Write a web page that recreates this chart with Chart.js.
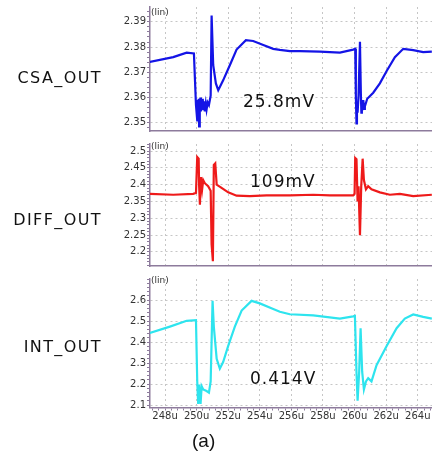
<!DOCTYPE html>
<html>
<head>
<meta charset="utf-8">
<script src="https://cdn.jsdelivr.net/npm/chart.js@4.4.1/dist/chart.umd.min.js"></script>
<style>
  html, body { margin: 0; padding: 0; background: #fff; }
  #wrap { position: relative; width: 432px; height: 451px; overflow: hidden; font-family: "DejaVu Sans", sans-serif; color: #111; }
  #wrap canvas { position: absolute; left: 0; }
  .sig { position: absolute; right: 330px; font-size: 16px; letter-spacing: 1.4px; line-height: 1; transform: translateY(-50%); white-space: nowrap; }
  .amp { position: absolute; font-size: 17px; letter-spacing: 1px; line-height: 1; transform: translateY(-50%); white-space: nowrap; }
  .lin { position: absolute; left: 151px; font-size: 9px; color: #333; line-height: 1; transform: translateY(-50%); }
  .cap { position: absolute; left: 192px; top: 440px; font-family: "Liberation Sans", sans-serif; font-size: 19px; line-height: 1; transform: translateY(-50%); }
</style>
</head>
<body>
<div id="wrap">
  <canvas id="csa" width="432" height="138" style="top:0px"></canvas>
  <canvas id="diff" width="432" height="136" style="top:137px"></canvas>
  <canvas id="int" width="432" height="179" style="top:272px"></canvas>

  <div class="sig" style="top:78px">CSA_OUT</div>
  <div class="sig" style="top:220px">DIFF_OUT</div>
  <div class="sig" style="top:347px">INT_OUT</div>

  <div class="amp" style="left:243px; top:101px">25.8mV</div>
  <div class="amp" style="left:250px; top:181px">109mV</div>
  <div class="amp" style="left:250px; top:378px">0.414V</div>

  <div class="lin" style="top:12px">(lin)</div>
  <div class="lin" style="top:146px">(lin)</div>
  <div class="lin" style="top:280px">(lin)</div>

  <div class="cap">(a)</div>
</div>
<script>
// time axis, microseconds
const TIME_MIN = 247.05;
const TIME_MAX = 264.9;
const TIME_TICKS = [248, 250, 252, 254, 256, 258, 260, 262, 264];

// CSA_OUT (V)
const CSA_T = [247.04, 248.52, 249.37, 249.83, 249.96, 250.04, 250.08, 250.10, 250.13, 250.16, 250.19, 250.21, 250.24, 250.27, 250.31, 250.35,
  250.39, 250.42, 250.47, 250.52, 250.58, 250.63, 250.70, 250.78, 250.89, 250.95,
  251.05, 251.22, 251.37, 251.68, 252.11, 252.53, 253.12, 253.58, 254.22, 254.85, 255.27, 255.90, 256.54, 257.80, 259.07, 259.91, 260.04,
  260.08, 260.12, 260.15, 260.19, 260.25, 260.34, 260.40, 260.43, 260.46, 260.50, 260.55, 260.60, 260.65, 260.80, 261.18, 261.60, 262.03,
  262.55, 263.08, 263.71, 264.34, 264.89];
const CSA_V = [2.3741, 2.3760, 2.3778, 2.3775, 2.3570, 2.3509, 2.3590, 2.3540, 2.3595, 2.3485, 2.3585, 2.3560, 2.3600, 2.3545, 2.3590, 2.3560,
  2.3595, 2.3550, 2.3585, 2.3545, 2.3575, 2.3552, 2.3580, 2.3570, 2.3607, 2.3925,
  2.3729, 2.3656, 2.3629, 2.3668, 2.3729, 2.3790, 2.3827, 2.3824, 2.3808, 2.3793, 2.3789, 2.3784, 2.3784, 2.3782, 2.3778, 2.3790, 2.3793,
  2.3607, 2.3497, 2.3580, 2.3540, 2.3607, 2.3821, 2.3607, 2.3540, 2.3580, 2.3550, 2.3590, 2.3555, 2.3565, 2.3595, 2.3619, 2.3656, 2.3705,
  2.3760, 2.3793, 2.3788, 2.3780, 2.3782];
const CSA_TICKS = [2.35, 2.36, 2.37, 2.38, 2.39];

// DIFF_OUT (V)
const DIFF_T = [247.04, 248.52, 249.78, 249.96, 250.04, 250.13, 250.16, 250.21, 250.27, 250.35, 250.42, 250.52, 250.73, 250.89, 250.95, 251.03,
  251.09, 251.18, 251.27, 251.58, 252.00, 252.53, 253.37, 254.43, 255.27, 255.90, 257.38, 258.44, 259.91, 260.00, 260.04, 260.12, 260.19,
  260.25, 260.34, 260.42, 260.51, 260.59, 260.72, 260.86, 261.07, 261.60, 262.23, 262.87, 263.71, 264.89];
const DIFF_V = [2.3727, 2.3700, 2.3727, 2.3754, 2.4820, 2.4773, 2.3954, 2.3407, 2.4227, 2.3863, 2.4136, 2.4044, 2.3954, 2.3817, 2.2224, 2.1722,
  2.4590, 2.4636, 2.4000, 2.3907, 2.3770, 2.3672, 2.3660, 2.3681, 2.3680, 2.3681, 2.3700, 2.3680, 2.3680, 2.3727, 2.4790, 2.4754, 2.3500,
  2.3954, 2.2497, 2.3954, 2.4773, 2.4136, 2.3863, 2.3954, 2.3863, 2.3770, 2.3700, 2.3727, 2.3660, 2.3700];
const DIFF_TICKS = [2.2, 2.25, 2.3, 2.35, 2.4, 2.45, 2.5];

// INT_OUT (V)
const INT_T = [247.04, 248.31, 249.37, 249.96, 250.04, 250.10, 250.16, 250.25, 250.32, 250.42, 250.63, 250.78, 250.89, 251.01, 251.09, 251.27,
  251.47, 251.68, 252.00, 252.42, 252.85, 253.48, 254.00, 254.85, 255.27, 255.90, 257.38, 259.07, 259.91, 260.02, 260.12, 260.19, 260.29,
  260.38, 260.48, 260.59, 260.72, 260.86, 261.07, 261.39, 262.03, 262.66, 263.18, 263.71, 264.34, 264.89];
const INT_V = [2.4433, 2.4742, 2.5018, 2.5046, 2.2129, 2.1055, 2.1977, 2.1055, 2.1900, 2.1747, 2.1668, 2.1590, 2.2129, 2.5968, 2.4742, 2.3203,
  2.2742, 2.3050, 2.3820, 2.4742, 2.5507, 2.5968, 2.5848, 2.5585, 2.5450, 2.5330, 2.5277, 2.5124, 2.5230, 2.5250, 2.2590, 2.1207, 2.2590,
  2.4664, 2.2590, 2.1747, 2.2129, 2.2281, 2.2129, 2.2899, 2.3820, 2.4664, 2.5124, 2.5323, 2.5203, 2.5124];
const INT_TICKS = [2.1, 2.2, 2.3, 2.4, 2.5, 2.6];

const frameColor = '#8d7b9c';
const gridColor = '#c6c6c6';
const tickFont = { family: 'DejaVu Sans', size: 10 };

Chart.defaults.font.family = 'DejaVu Sans';

function onList(v, list) {
  return list.some(t => Math.abs(t - v) < 1e-6);
}

// one waveform strip; only the last one shows the time labels
function drawPanel({ canvas, times, volts, color, yMin, yMax, yTicks, yStep, padTop, xHeight, showTime }) {
  return new Chart(canvas.getContext('2d'), {
    type: 'line',
    data: {
      datasets: [{
        data: times.map((t, i) => ({ x: t, y: volts[i] })),
        borderColor: color,
        borderWidth: 2.2,
        pointRadius: 0,
        tension: 0,
        fill: false,
      }],
    },
    options: {
      responsive: false,
      animation: false,
      events: [],
      layout: { padding: { top: padTop, bottom: 0, left: 0, right: 0 } },
      plugins: { legend: { display: false }, tooltip: { enabled: false } },
      scales: {
        x: {
          type: 'linear',
          min: TIME_MIN,
          max: TIME_MAX,
          afterFit: s => { s.height = xHeight; },
          border: { color: frameColor, width: 1.5, dash: [2, 3] },
          grid: {
            color: c => (c.tick && onList(c.tick.value, TIME_TICKS) ? gridColor : 'transparent'),
            tickColor: frameColor,
            tickLength: 3,
            drawTicks: showTime,
          },
          ticks: {
            display: showTime,
            stepSize: 0.4,
            includeBounds: false,
            autoSkip: false,
            maxRotation: 0,
            minRotation: 0,
            padding: 0,
            color: '#333',
            font: tickFont,
            callback: v => (onList(v, TIME_TICKS) ? Math.round(v) + 'u' : ''),
          },
        },
        y: {
          min: yMin,
          max: yMax,
          afterFit: s => { s.width = 150; },
          border: { color: frameColor, width: 1.5, dash: [2, 3] },
          grid: {
            color: c => (c.tick && onList(c.tick.value, yTicks) ? gridColor : 'transparent'),
            tickColor: frameColor,
            tickLength: 3,
          },
          ticks: {
            stepSize: yStep,
            includeBounds: false,
            autoSkip: false,
            padding: 1,
            color: '#333',
            font: tickFont,
            callback: v => (onList(v, yTicks) ? String(+v.toFixed(3)) : ''),
          },
        },
      },
    },
  });
}

drawPanel({ canvas: document.getElementById('csa'), times: CSA_T, volts: CSA_V, color: '#1414e6',
  yMin: 2.3467, yMax: 2.3959, yTicks: CSA_TICKS, yStep: 0.002, padTop: 4, xHeight: 1, showTime: false });
drawPanel({ canvas: document.getElementById('diff'), times: DIFF_T, volts: DIFF_V, color: '#ee1a1a',
  yMin: 2.158, yMax: 2.521, yTicks: DIFF_TICKS, yStep: 0.01, padTop: 2, xHeight: 1, showTime: false });
drawPanel({ canvas: document.getElementById('int'), times: INT_T, volts: INT_V, color: '#2ee4ee',
  yMin: 2.0885, yMax: 2.701, yTicks: INT_TICKS, yStep: 0.02, padTop: 2, xHeight: 43.5, showTime: true });
</script>
</body>
</html>
